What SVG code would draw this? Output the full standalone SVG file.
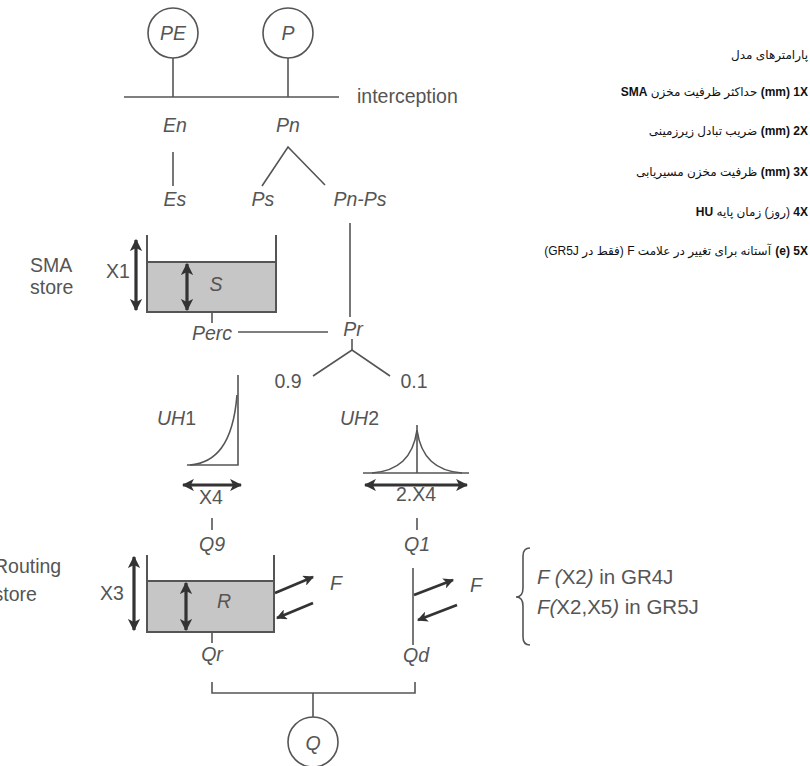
<svg xmlns="http://www.w3.org/2000/svg" width="810" height="766" viewBox="0 0 810 766">
<defs>
<style>
.ln{stroke:#555;stroke-width:1.6;fill:none}
.wall{stroke:#555;stroke-width:2;fill:none}
.water{fill:#c6c6c6;stroke:#555;stroke-width:2}
.arr{stroke:#333;stroke-width:3.2;fill:none;marker-start:url(#ah);marker-end:url(#ah)}
.farr{stroke:#333;stroke-width:2.8;fill:none;marker-end:url(#ah)}
.t{font-family:"Liberation Sans",Arial,sans-serif;font-size:19.5px;fill:#555}
.lg{font-size:20.5px}
.i{font-style:italic}
.c{text-anchor:middle}
.fa{font-family:"Liberation Sans","DejaVu Sans",sans-serif;font-size:12px;fill:#111;text-anchor:end}
.b{font-weight:bold}
.node{fill:#fff;stroke:#555;stroke-width:1.6}
</style>
<marker id="ah" viewBox="0 0 10 10" refX="9" refY="5" markerWidth="3.8" markerHeight="3.8" orient="auto-start-reverse" markerUnits="strokeWidth">
<path d="M0,0 L10,5 L0,10 L2.5,5 z" fill="#333"/>
</marker>
</defs>
<rect width="810" height="766" fill="#fff"/>

<g id="connectors">
<line class="ln" x1="173" y1="58" x2="173" y2="97"/>
<line class="ln" x1="288" y1="58" x2="288" y2="97"/>
<line class="ln" x1="124" y1="97" x2="339" y2="97"/>
<line class="ln" x1="173" y1="152" x2="173" y2="186"/>
<polyline class="ln" points="262,186 288,147 325,185"/>
<line class="ln" x1="350" y1="223" x2="350" y2="317"/>
<line class="ln" x1="212" y1="312" x2="212" y2="323"/>
<line class="ln" x1="238" y1="332" x2="328" y2="332"/>
<line class="ln" x1="352" y1="339" x2="352" y2="350"/>
<polyline class="ln" points="313,376 352,350 390,376"/>
<line class="ln" x1="212" y1="518" x2="212" y2="530"/>
<line class="ln" x1="417" y1="518" x2="417" y2="530"/>
<line class="ln" x1="212" y1="632" x2="212" y2="643"/>
<polyline class="ln" points="212,682 212,693 415,693 415,682"/>
<line class="ln" x1="313" y1="693" x2="313" y2="717"/>
</g>

<g id="pe"><circle class="node" cx="173" cy="33" r="25"/><text class="t i c" x="173" y="40">PE</text></g>
<g id="p"><circle class="node" cx="288" cy="33" r="25"/><text class="t i c" x="288" y="40">P</text></g>
<g id="interception"><text class="t" x="357" y="103">interception</text></g>
<g id="en"><text class="t i c" x="175" y="132">En</text></g>
<g id="pn"><text class="t i c" x="288" y="132">Pn</text></g>
<g id="es"><text class="t i c" x="175" y="206">Es</text></g>
<g id="ps"><text class="t i c" x="263" y="206">Ps</text></g>
<g id="pnps"><text class="t i c" x="360" y="206">Pn-Ps</text></g>

<g id="sma-store">
<text class="t" x="30" y="272">SMA</text>
<text class="t" x="30" y="294">store</text>
<text class="t" x="106" y="278">X1</text>
<rect class="water" x="147" y="262" width="129" height="50"/>
<polyline class="wall" points="147,235 147,312 276,312 276,235"/>
<line class="arr" x1="136" y1="240" x2="136" y2="310"/>
<line class="arr" x1="187" y1="264" x2="187" y2="310"/>
<text class="t i c" x="216" y="291">S</text>
</g>
<g id="perc"><text class="t i c" x="212" y="340">Perc</text></g>
<g id="pr"><text class="t i c" x="353" y="336">Pr</text></g>
<g id="split">
<text class="t c" x="288" y="388">0.9</text>
<text class="t c" x="414" y="388">0.1</text>
</g>

<g id="uh1">
<text class="t" x="157" y="425"><tspan class="i">UH</tspan>1</text>
<polyline class="ln" points="187,465 238,465 238,375"/>
<path class="ln" d="M190,465 C215,463 233,445 237,395"/>
<line class="arr" x1="183" y1="485" x2="241" y2="485"/>
<text class="t c" x="211" y="504">X4</text>
</g>
<g id="uh2">
<text class="t" x="340" y="425"><tspan class="i">UH</tspan>2</text>
<line class="ln" x1="363" y1="473" x2="469" y2="473"/>
<line class="ln" x1="417" y1="425" x2="417" y2="473"/>
<path class="ln" d="M372,473 C398,471 413,458 417,430 C421,458 436,471 462,473"/>
<line class="arr" x1="365" y1="485" x2="467" y2="485"/>
<text class="t c" x="416" y="501">2.X4</text>
</g>
<g id="q9"><text class="t i c" x="212" y="551">Q9</text></g>
<g id="q1"><text class="t i c" x="417" y="551">Q1</text></g>

<g id="routing-store">
<text class="t" x="-6" y="573">Routing</text>
<text class="t" x="-6.5" y="601">store</text>
<text class="t" x="100" y="600">X3</text>
<rect class="water" x="147" y="581" width="127" height="51"/>
<polyline class="wall" points="147,555 147,632 274,632 274,555"/>
<line class="arr" x1="134" y1="557" x2="134" y2="630"/>
<line class="arr" x1="186" y1="583" x2="186" y2="630"/>
<text class="t i c" x="224" y="608">R</text>
<line class="farr" x1="275" y1="593" x2="313" y2="577"/>
<line class="farr" x1="313" y1="603" x2="277" y2="618"/>
<text class="t i" x="330" y="590">F</text>
</g>

<g id="direct">
<line class="ln" x1="413" y1="568" x2="413" y2="645"/>
<line class="farr" x1="414" y1="595" x2="453" y2="580"/>
<line class="farr" x1="457" y1="605" x2="418" y2="620"/>
<text class="t i" x="470" y="592">F</text>
</g>
<g id="qr"><text class="t i c" x="212" y="661">Qr</text></g>
<g id="qd"><text class="t i c" x="416" y="662">Qd</text></g>
<g id="q"><circle class="node" cx="313" cy="742" r="25"/><text class="t i c" x="313" y="750">Q</text></g>

<g id="legend">
<path class="ln" d="M530,548 Q523,548 523,556 L523,588 Q523,597 516,597 Q523,597 523,606 L523,637 Q523,645 530,645"/>
<text class="t lg" x="537" y="584"><tspan class="i">F (</tspan>X2<tspan class="i">)</tspan> in GR4J</text>
<text class="t lg" x="537" y="614"><tspan class="i">F(</tspan>X2,X5<tspan class="i">)</tspan> in GR5J</text>
</g>

<g id="params">
<text class="fa" x="808" y="59">پارامترهای مدل</text>
<text class="fa" x="808" y="96"><tspan class="b">SMA</tspan> حداکثر ظرفیت مخزن <tspan class="b">(mm) 1X</tspan></text>
<text class="fa" x="808" y="135">ضریب تبادل زیرزمینی <tspan class="b">(mm) 2X</tspan></text>
<text class="fa" x="808" y="176">ظرفیت مخزن مسیریابی <tspan class="b">(mm) 3X</tspan></text>
<text class="fa" x="808" y="216"><tspan class="b">HU</tspan> &#x2067;(روز) زمان پایه&#x2069; <tspan class="b">4X</tspan></text>
<text class="fa b" x="808" y="255">(e) 5X</text>
<text class="fa" x="771" y="255">&#x2067;آستانه برای تغییر در علامت  F (فقط در GR5J)&#x2069;</text>
</g>
</svg>
